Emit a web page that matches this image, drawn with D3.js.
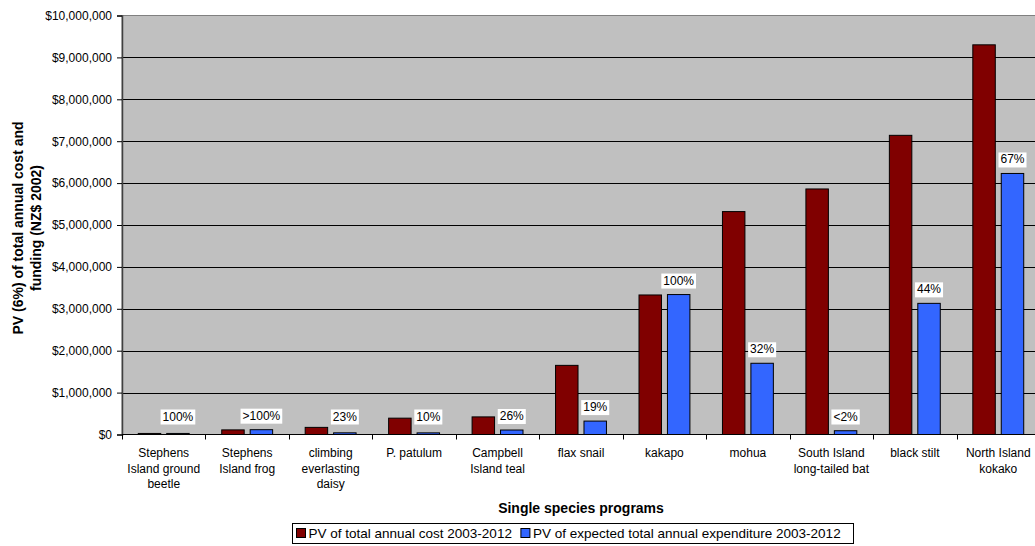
<!DOCTYPE html>
<html>
<head>
<meta charset="utf-8">
<script src="https://cdn.jsdelivr.net/npm/d3@7"></script>
<style>
    body { margin: 0; background: #fff; }
    svg { font-family: "Liberation Sans", Arial, sans-serif; }
</style>
</head>
<body>
<svg id="chart" width="1035" height="546"></svg>
<script>
/*global d3*/
var categories = ["Stephens Island ground beetle", "Stephens Island frog", "climbing everlasting daisy",
    "P. patulum", "Campbell Island teal", "flax snail", "kakapo", "mohua",
    "South Island long-tailed bat", "black stilt", "North Island kokako"];
var totalCost = [25000, 110000, 170000, 390000, 420000, 1650000, 3330000, 5320000, 5860000, 7140000, 9300000];
var expectedSpend = [25000, 115000, 40000, 39000, 107000, 320000, 3340000, 1700000, 90000, 3130000, 6230000];
var pctLabels = ["100%", ">100%", "23%", "10%", "26%", "19%", "100%", "32%", "<2%", "44%", "67%"];
var seriesNames = ["PV of total annual cost 2003-2012", "PV of expected total annual expenditure 2003-2012"];
var seriesColors = ["#800000", "#3366ff"];
var yTicks = [0, 1e6, 2e6, 3e6, 4e6, 5e6, 6e6, 7e6, 8e6, 9e6, 10e6];

(function () {
    "use strict";
    var svg = d3.select("#chart"),
        left = 122,
        top = 15.5,
        right = 1040,
        bottom = 434.5,
        keys = ["cost", "spend"],
        rows,
        x0,
        x1,
        y,
        groups,
        yAxis,
        xAxis,
        legend,
        legendItems,
        offset;

    rows = categories.map(function (c, i) {
        return {name: c, cost: totalCost[i], spend: expectedSpend[i], pct: pctLabels[i]};
    });

    x0 = d3.scaleBand().domain(categories).range([left, right]).paddingInner(0.39).paddingOuter(0.195);
    x1 = d3.scaleBand().domain(keys).range([0, x0.bandwidth()]).paddingInner(0.21);
    y = d3.scaleLinear().domain([0, 10e6]).range([bottom, top]);

    // plot background
    svg.append("rect")
        .attr("x", left).attr("y", top)
        .attr("width", right - left).attr("height", bottom - top)
        .attr("fill", "#c0c0c0")
        .attr("stroke", "#808080");

    // gridlines
    svg.append("g").selectAll("line")
        .data(yTicks.slice(1, -1))
        .join("line")
        .attr("x1", left).attr("x2", right)
        .attr("y1", function (d) { return Math.round(y(d)) + 0.5; })
        .attr("y2", function (d) { return Math.round(y(d)) + 0.5; })
        .attr("stroke", "#000");

    // bars
    groups = svg.append("g").selectAll("g")
        .data(rows)
        .join("g")
        .attr("transform", function (d) { return "translate(" + x0(d.name) + ",0)"; });

    groups.selectAll("rect")
        .data(function (d) { return keys.map(function (k, i) { return {key: k, value: d[k], color: seriesColors[i]}; }); })
        .join("rect")
        .attr("x", function (d) { return x1(d.key); })
        .attr("y", function (d) { return y(d.value); })
        .attr("width", x1.bandwidth())
        .attr("height", function (d) { return Math.max(1, bottom - y(d.value)); })
        .attr("fill", function (d) { return d.color; })
        .attr("stroke", "#000")
        .attr("stroke-width", 1);

    // percentage labels over the expenditure bars
    groups.each(function (d) {
        var g = d3.select(this),
            cx = x1("spend") + x1.bandwidth() / 2,
            base = Math.min(y(d.spend), bottom - 4) - 10,
            label = g.append("g"),
            txt,
            w;
        txt = label.append("text")
            .attr("x", cx).attr("y", base)
            .attr("text-anchor", "middle")
            .attr("font-size", 12)
            .attr("fill", "#000")
            .text(d.pct);
        w = txt.node().getComputedTextLength();
        label.insert("rect", "text")
            .attr("x", cx - w / 2 - 2).attr("y", base - 11)
            .attr("width", w + 4).attr("height", 15)
            .attr("fill", "#fff");
    });

    // y axis
    yAxis = svg.append("g")
        .attr("transform", "translate(" + left + ",0)")
        .call(d3.axisLeft(y).tickValues(yTicks).tickFormat(d3.format("$,.0f")).tickSize(5).tickPadding(5));
    yAxis.select(".domain").attr("stroke", "#404040").attr("stroke-width", 1.5);
    yAxis.selectAll("text").attr("font-size", 12).attr("font-family", "Liberation Sans, Arial, sans-serif").attr("fill", "#000");

    // x axis, ticks at category boundaries
    xAxis = svg.append("g");
    xAxis.append("line")
        .attr("x1", left).attr("x2", right)
        .attr("y1", bottom).attr("y2", bottom)
        .attr("stroke", "#000");
    xAxis.selectAll("line.tick")
        .data(d3.range(categories.length + 1))
        .join("line")
        .attr("class", "tick")
        .attr("x1", function (i) { return Math.round(left + i * x0.step()) + 0.5; })
        .attr("x2", function (i) { return Math.round(left + i * x0.step()) + 0.5; })
        .attr("y1", bottom).attr("y2", bottom + 5)
        .attr("stroke", "#000");

    xAxis.selectAll("text.cat")
        .data(categories)
        .join("text")
        .attr("class", "cat")
        .attr("text-anchor", "middle")
        .attr("font-size", 12)
        .attr("fill", "#000")
        .attr("x", function (d) { return x0(d) + x0.bandwidth() / 2; })
        .attr("y", 457)
        .each(function (d) {
            //greedy word wrap like the spreadsheet does
            var t = d3.select(this),
                words = d.split(" "),
                line = [],
                cx = x0(d) + x0.bandwidth() / 2,
                span = t.append("tspan").attr("x", cx).attr("dy", 0);
            words.forEach(function (word) {
                line.push(word);
                span.text(line.join(" "));
                if (span.node().getComputedTextLength() > 80 && line.length > 1) {
                    line.pop();
                    span.text(line.join(" "));
                    line = [word];
                    span = t.append("tspan").attr("x", cx).attr("dy", 15.5).text(word);
                }
            });
        });

    // axis titles
    svg.append("text")
        .attr("x", (left + right) / 2).attr("y", 513)
        .attr("text-anchor", "middle")
        .attr("font-size", 14).attr("font-weight", "bold")
        .text("Single species programs");

    svg.append("text")
        .attr("transform", "translate(23,228) rotate(-90)")
        .attr("text-anchor", "middle")
        .attr("font-size", 14).attr("font-weight", "bold")
        .selectAll("tspan")
        .data(["PV (6%) of total annual cost and", "funding (NZ$ 2002)"])
        .join("tspan")
        .attr("x", 0)
        .attr("dy", function (d, i) { return i === 0 ? 0 : 18; })
        .text(function (d) { return d; });

    // legend
    legend = svg.append("g");
    legend.append("rect")
        .attr("x", 292.5).attr("y", 523.5)
        .attr("width", 561).attr("height", 20)
        .attr("fill", "#fff").attr("stroke", "#000");
    legendItems = legend.selectAll("g")
        .data(seriesNames)
        .join("g");
    offset = 296.5;
    legendItems.each(function (d, i) {
        var g = d3.select(this),
            t;
        g.append("rect")
            .attr("x", offset).attr("y", 528.5)
            .attr("width", 9).attr("height", 9)
            .attr("fill", seriesColors[i]).attr("stroke", "#000");
        t = g.append("text")
            .attr("x", offset + 12).attr("y", 538)
            .attr("font-size", 13.5)
            .text(d);
        offset += 12 + t.node().getComputedTextLength() + 9;
    });
}());
</script>
</body>
</html>
